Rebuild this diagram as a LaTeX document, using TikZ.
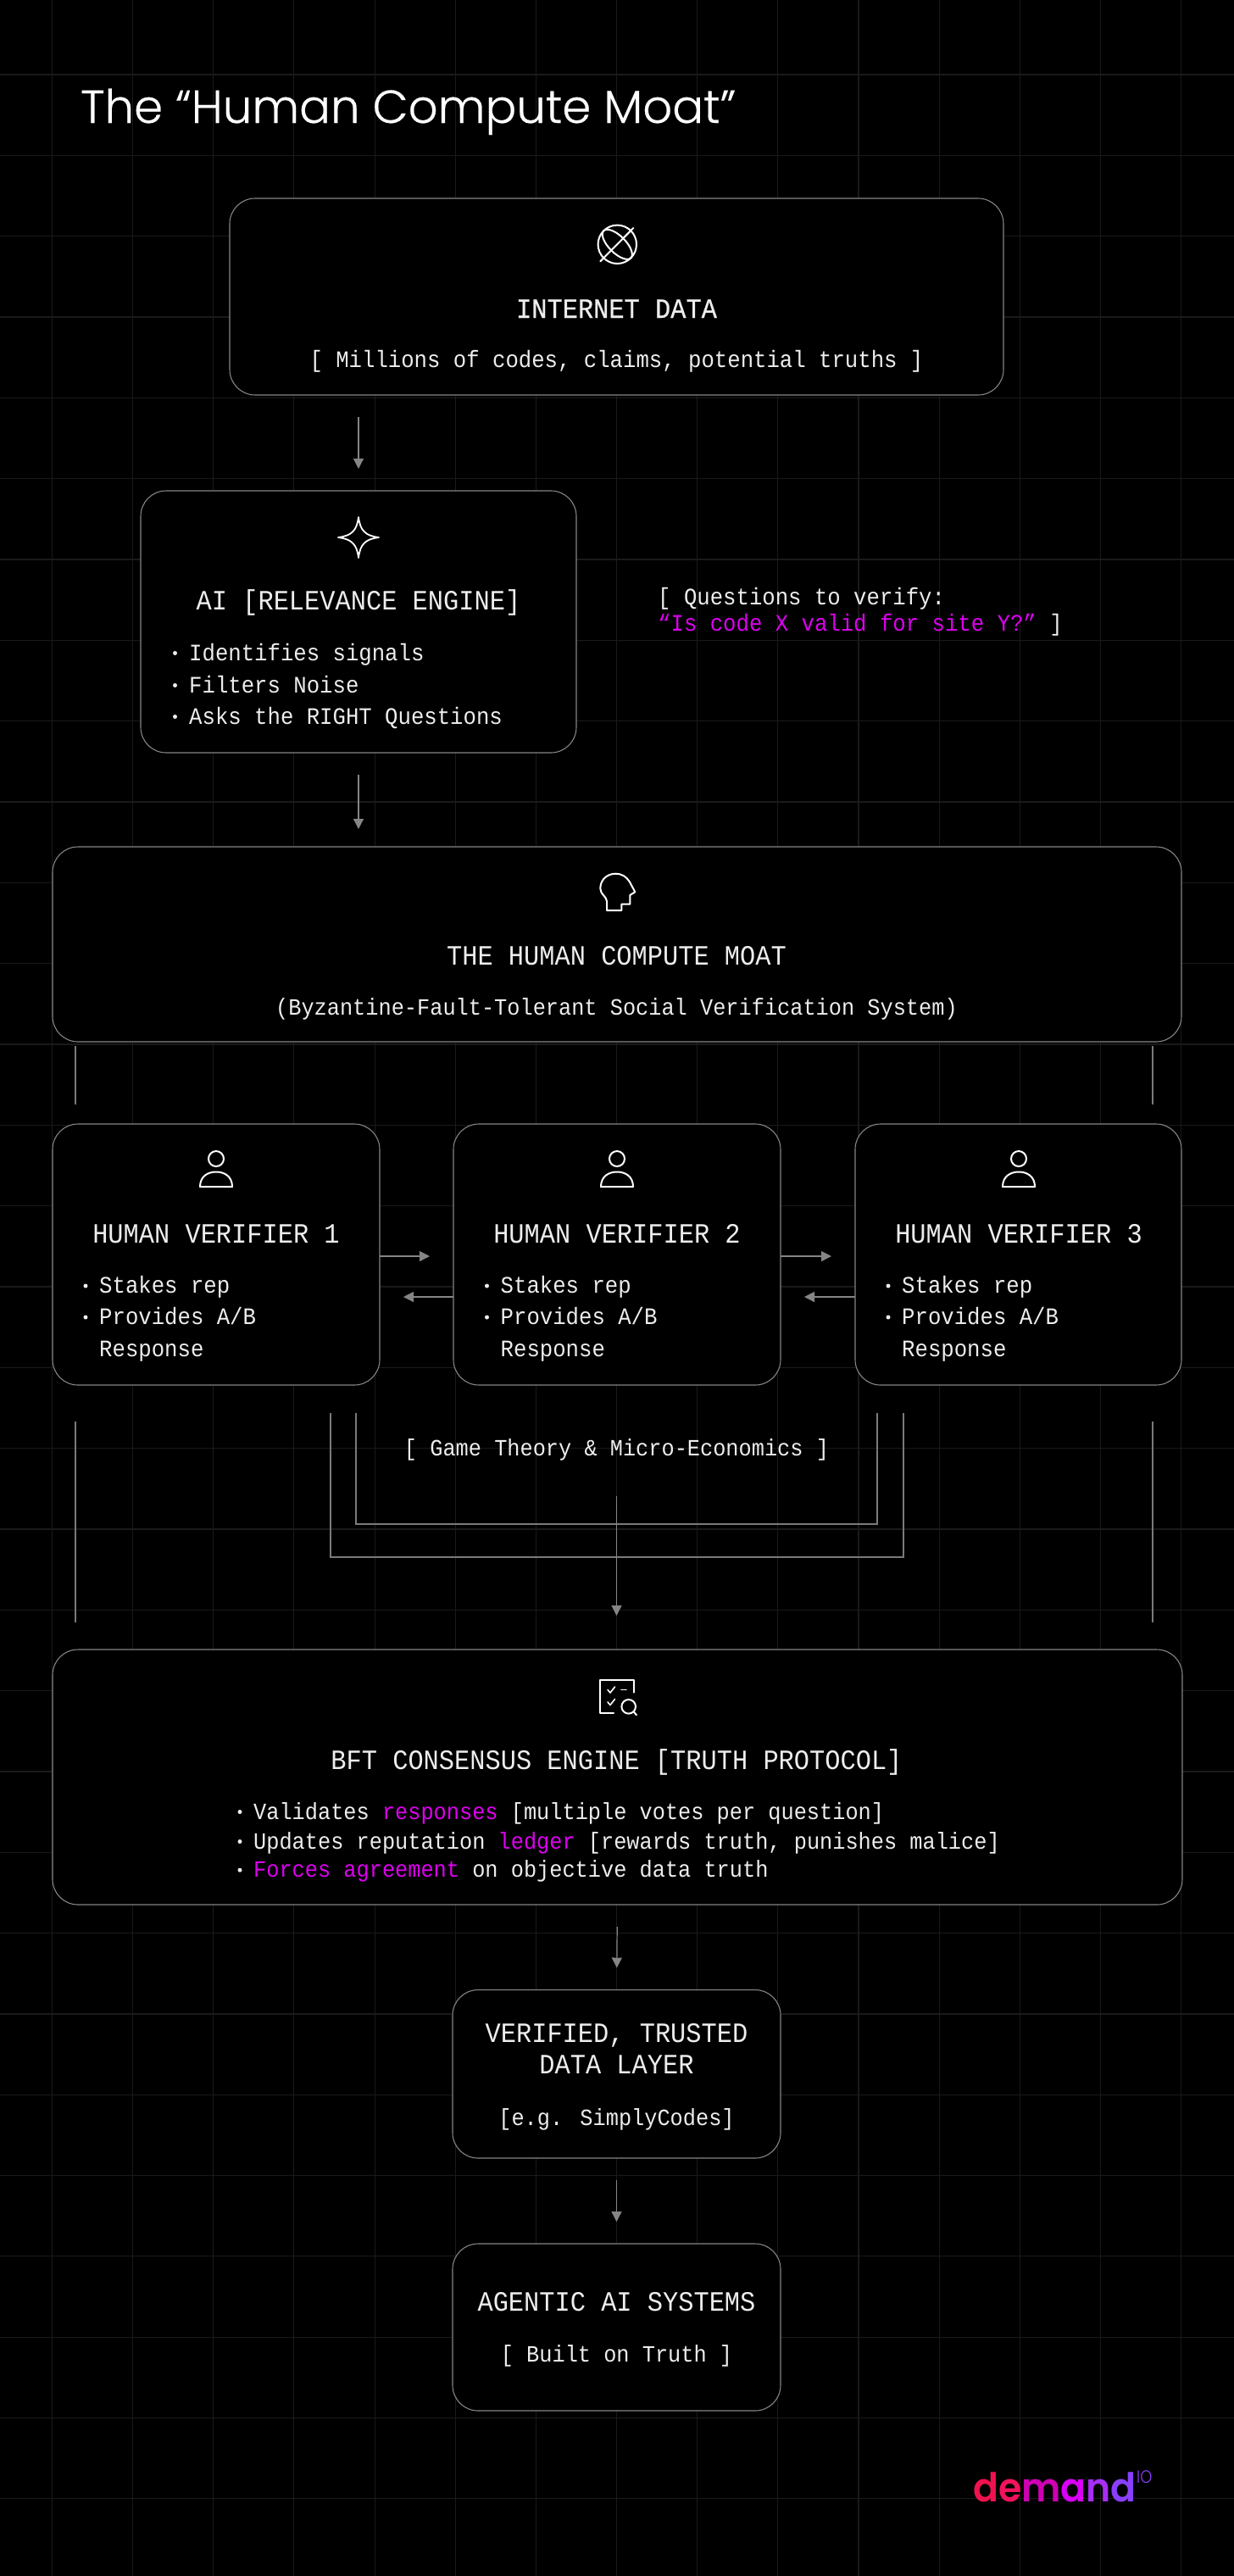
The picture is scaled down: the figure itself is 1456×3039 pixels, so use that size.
\documentclass[tikz,border=0pt]{standalone}
\usepackage{fontspec}
\usetikzlibrary{arrows.meta}
\setmainfont{Liberation Mono}[FakeStretch=0.92]
\newfontfamily\medfont{Liberation Mono}[FakeStretch=0.92,FakeBold=0.5]
\newfontfamily\titlefont{Poppins Light}[FakeBold=0.4]
\newfontfamily\logofont{Poppins SemiBold}[FakeStretch=0.94]
\newfontfamily\logosup{Poppins Light}[FakeStretch=0.85]
\definecolor{gridh}{HTML}{1A1A1A}
\definecolor{gridv}{HTML}{1A1A1A}
\definecolor{edge}{HTML}{858585}
\definecolor{railc}{HTML}{7A7A7A}
\definecolor{mag}{HTML}{DD00F0}
\definecolor{ink}{HTML}{EDEDED}
\newcommand{\bigtxt}{\fontsize{33}{40}\selectfont}
\newcommand{\smalltxt}{\fontsize{27.9}{37}\selectfont}
\newcommand{\tighttxt}{\fontsize{27.5}{37}\selectfont}
\newcommand{\mg}[1]{\textcolor{mag}{#1}}
\tikzset{
  x=1pt,y=-1pt,
  box/.style={draw=edge,fill=black,line width=1.1pt,rounded corners=30pt},
  head/.style={text=ink,font=\bigtxt,anchor=base,inner sep=0pt},
  body/.style={text=ink,font=\smalltxt,anchor=base,inner sep=0pt},
  tightbody/.style={text=ink,font=\tighttxt,anchor=base,inner sep=0pt},
  bodyw/.style={text=ink,font=\smalltxt,anchor=base west,inner sep=0pt},
  tightw/.style={text=ink,font=\tighttxt,anchor=base west,inner sep=0pt},
  dot/.style={circle,fill=ink,minimum size=5pt,inner sep=0pt,outer sep=0pt},
  flow/.style={draw=edge,line width=1.2pt,-{Triangle[length=12pt,width=12pt]}},
  rail/.style={draw=railc,line width=1.2pt},
  icon/.style={draw=white,line width=2pt,line join=round,line cap=round},
}
\newcommand{\mkbox}[5]{% name, x0, y0, x1, y1
  \path[box] (#2,#3) rectangle (#4,#5);
  \node[inner sep=0pt,outer sep=0pt,minimum width={(#4-#2)*1pt},minimum height={(#5-#3)*1pt}] (#1) at ({(#2+#4)/2},{(#3+#5)/2}) {};
}
\newcommand{\bullitem}[5]{% name, x bullet, x text, baseline, text
  \node[dot] (#1d) at (#2,#4-8.5) {};
  \node[bodyw] (#1) at (#3,#4) {#5};
}
\newcommand{\bullitemt}[5]{%
  \node[dot] (#1d) at (#2,#4-8.5) {};
  \node[tightw] (#1) at (#3,#4) {#5};
}
\newcommand{\person}[1]{%
  \draw[icon] (#1,1367) ellipse (9 and 9);
  \draw[icon] (#1-19,1400) .. controls (#1-19,1388) and (#1-10,1382.5) .. (#1,1382.5) .. controls (#1+10,1382.5) and (#1+19,1388) .. (#1+19,1400) -- cycle;
}
\begin{document}
\begin{tikzpicture}
\useasboundingbox (0,0) rectangle (1456,3039);
\fill[black] (0,0) rectangle (1456,3039);
% grid
\foreach \k in {-7,...,7} \draw[gridv,line width=1.1pt] ({727.5+95.15*\k},0) -- ({727.5+95.15*\k},3039);
\foreach \k in {0,...,30} \draw[gridh,line width=1.1pt] (0,{88+95.33*\k}) -- (1456,{88+95.33*\k});

% title
\node[anchor=base west,inner sep=0pt,text=white,font=\titlefont\fontsize{54.6}{60}\selectfont] (title) at (95,145) {The “Human Compute Moat”};

% boxes
\mkbox{internet}{271}{234}{1184}{466}
\mkbox{ai}{166}{579}{680}{888}
\mkbox{moat}{62}{999}{1394}{1229}
\mkbox{v1}{62}{1326}{448}{1634}
\mkbox{v2}{535}{1326}{921}{1634}
\mkbox{v3}{1009}{1326}{1394}{1634}
\mkbox{bft}{62}{1946}{1395}{2247}
\mkbox{verified}{534}{2347.5}{921}{2546}
\mkbox{agentic}{534}{2647}{921}{2844}

% internet
\draw[icon] (728.3,288.3) circle (22.7);
\draw[icon] (708.3,308.3) -- (747.3,269);
\draw[icon,rotate around={-45:(728.3,288.3)}] (728.3,288.3) ellipse (22.7 and 10);
\node[head,font=\medfont\fontsize{33}{40}\selectfont] (tinternet) at (727.5,375) {INTERNET DATA};
\node[body] (sinternet) at (727.5,433) {[ Millions of codes, claims, potential truths ]};

% ai
\draw[icon,line width=1.8pt] (423,610) .. controls (425,626) and (431,632) .. (447,634) .. controls (431,636) and (425,642) .. (423,658) .. controls (421,642) and (415,636) .. (399,634) .. controls (415,632) and (421,626) .. (423,610) -- cycle;
\node[head] (tai) at (423,719) {AI [RELEVANCE ENGINE]};
\bullitem{a1}{206.5}{223}{779}{Identifies signals}
\bullitem{a2}{206.5}{223}{817}{Filters Noise}
\bullitem{a3}{206.5}{223}{854}{Asks the RIGHT Questions}
\node[bodyw] (q1) at (776,713) {[ Questions to verify:};
\node[bodyw] (q2) at (776,744) {\mg{“Is code X valid for site Y?”} ]};

% moat
\draw[icon] (716,1074) -- (733.3,1074) -- (733.3,1066.7) -- (743.3,1066.7) -- (743.3,1056) -- (749.3,1052.3) -- (742.7,1040) .. controls (739,1034) and (733,1030.7) .. (726.7,1030.7) .. controls (716,1030.7) and (708.3,1038) .. (708.3,1048.3) .. controls (708.3,1055) and (716,1058) .. (716,1063.3) -- cycle;
\node[head] (tmoat) at (727.5,1138) {THE HUMAN COMPUTE MOAT};
\node[tightbody] (smoat) at (727.5,1197) {(Byzantine-Fault-Tolerant Social Verification System)};

% verifiers
\person{255}
\node[head] (tv1) at (255,1466) {HUMAN VERIFIER 1};
\bullitem{b1}{101}{117}{1525.5}{Stakes rep}
\bullitem{b2}{101}{117}{1562.5}{Provides A/B}
\node[bodyw] (b3) at (117,1600.5) {Response};
\person{728}
\node[head] (tv2) at (728,1466) {HUMAN VERIFIER 2};
\bullitem{c1}{574.5}{590.5}{1525.5}{Stakes rep}
\bullitem{c2}{574.5}{590.5}{1562.5}{Provides A/B}
\node[bodyw] (c3) at (590.5,1600.5) {Response};
\person{1202}
\node[head] (tv3) at (1202,1466) {HUMAN VERIFIER 3};
\bullitem{d1}{1048}{1064}{1525.5}{Stakes rep}
\bullitem{d2}{1048}{1064}{1562.5}{Provides A/B}
\node[bodyw] (d3) at (1064,1600.5) {Response};

\node[tightbody] (game) at (727.5,1717.5) {[ Game Theory \& Micro-Economics ]};

% bft
\draw[icon] (748.3,1996.7) -- (748.3,1981.7) -- (708.3,1981.7) -- (708.3,2020.7) -- (724,2020.7);
\draw[icon,line width=1.6pt] (717,1993.5) -- (720,1997) -- (725.5,1990);
\draw[icon,line width=1.6pt] (733,1993.3) -- (739,1993.3);
\draw[icon,line width=1.6pt] (717,2008) -- (720,2011.5) -- (725.5,2004.5);
\draw[icon] (741.7,2013.3) circle (8.3);
\draw[icon] (747.6,2019.2) -- (751,2023.3);
\node[head] (tbft) at (727.5,2087) {BFT CONSENSUS ENGINE [TRUTH PROTOCOL]};
\bullitemt{e1}{283}{299}{2146}{Validates \mg{responses} [multiple votes per question]}
\bullitemt{e2}{283}{299}{2181}{Updates reputation \mg{ledger} [rewards truth, punishes malice]}
\bullitemt{e3}{283}{299}{2214.7}{\mg{Forces agreement} on objective data truth}

% verified / agentic
\node[head] (tver1) at (727.5,2409) {VERIFIED, TRUSTED};
\node[head] (tver2) at (727.5,2446.5) {DATA LAYER};
\node[tightbody] (sver) at (727.5,2507) {[e.g. SimplyCodes]};
\node[head] (tag) at (727.5,2726) {AGENTIC AI SYSTEMS};
\node[tightbody] (sag) at (727.5,2786) {[ Built on Truth ]};

% logo
\node[anchor=base west,inner sep=0pt,font=\logofont\fontsize{47}{50}\selectfont] (logo) at (1148,2951) {\textcolor[HTML]{F0124F}{d}\textcolor[HTML]{F2135C}{e}\textcolor[HTML]{CF00B4}{m}\textcolor[HTML]{D900F5}{a}\textcolor[HTML]{A62EF5}{n}\textcolor[HTML]{8A3FFC}{d}};
\node[anchor=base west,inner sep=0pt,font=\logosup\fontsize{21}{24}\selectfont,text={rgb,255:red,138;green,63;blue,252}] (logoio) at (1341,2929.5) {IO};

% named free ends
\coordinate (rowR) at (0,1482);
\coordinate (rowL) at (0,1530);
\coordinate (stubL1a) at (89,1234);  \coordinate (stubL1b) at (89,1303);
\coordinate (stubR1a) at (1360,1234);\coordinate (stubR1b) at (1360,1303);
\coordinate (stubL2a) at (89,1677);  \coordinate (stubL2b) at (89,1914);
\coordinate (stubR2a) at (1360,1677);\coordinate (stubR2b) at (1360,1914);
\coordinate (innerA) at (420,1667);  \coordinate (innerB) at (420,1798);
\coordinate (innerC) at (1035,1798); \coordinate (innerD) at (1035,1667);
\coordinate (outerA) at (390,1667);  \coordinate (outerB) at (390,1837);
\coordinate (outerC) at (1066,1837); \coordinate (outerD) at (1066,1667);
\coordinate (gameOut) at (727.5,1765);

% connectors
\draw[flow,shorten <=26pt,shorten >=26pt] (ai.north |- internet.south) -- (ai.north);
\draw[flow,shorten <=26pt,shorten >=21pt] (ai.south) -- (ai.south |- moat.north);
\draw[rail] (stubL1a) -- (stubL1b);
\draw[rail] (stubR1a) -- (stubR1b);
\draw[rail] (stubL2a) -- (stubL2b);
\draw[rail] (stubR2a) -- (stubR2b);
\draw[flow,shorten >=28pt] (v1.east |- rowR) -- (v2.west |- rowR);
\draw[flow,shorten >=28pt] (v2.east |- rowR) -- (v3.west |- rowR);
\draw[flow,shorten >=28pt] (v2.west |- rowL) -- (v1.east |- rowL);
\draw[flow,shorten >=28pt] (v3.west |- rowL) -- (v2.east |- rowL);
\draw[rail] (innerA) -- (innerB) -- (innerC) -- (innerD);
\draw[rail] (outerA) -- (outerB) -- (outerC) -- (outerD);
\draw[flow,shorten >=40pt] (gameOut) -- (gameOut |- bft.north);
\draw[flow,shorten <=26pt,shorten >=26pt] (bft.south) -- (verified.north);
\draw[flow,shorten <=26pt,shorten >=26pt] (verified.south) -- (agentic.north);
\end{tikzpicture}
\end{document}
